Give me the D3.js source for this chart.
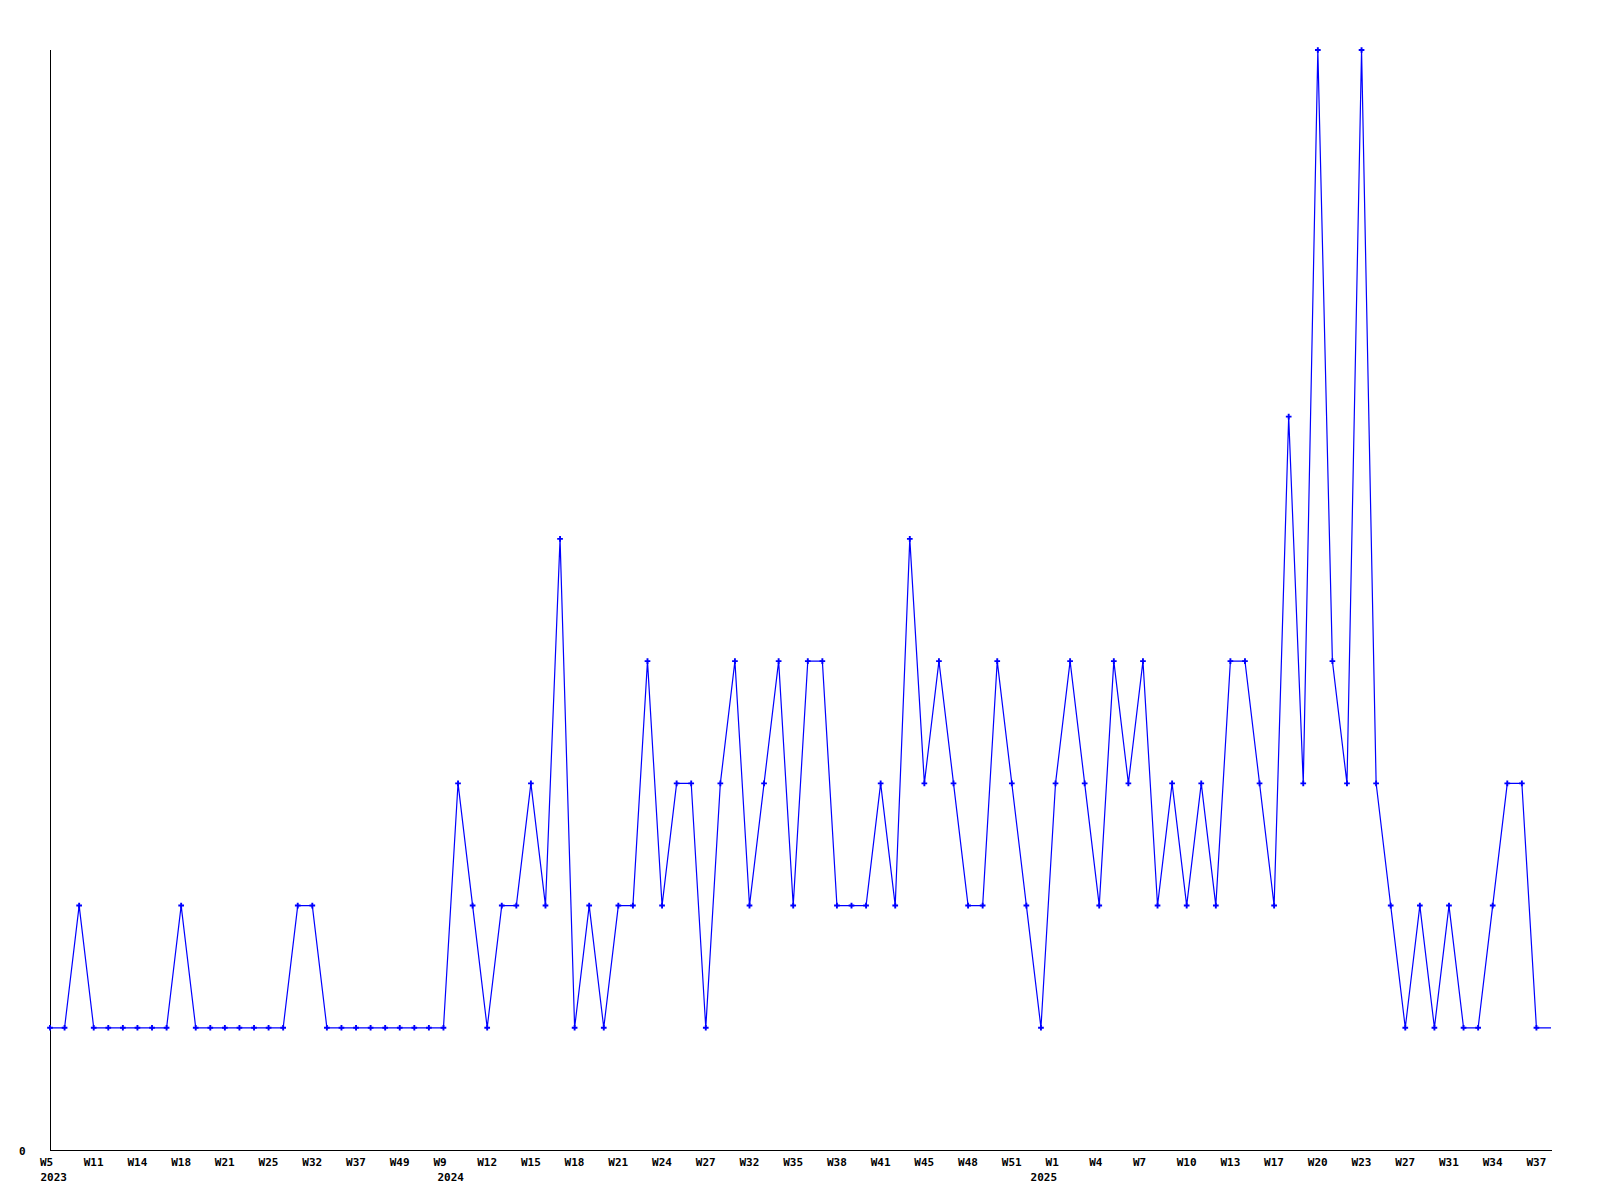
<!DOCTYPE html>
<html>
<head>
<meta charset="utf-8">
<script src="https://cdn.jsdelivr.net/npm/d3@7"></script>
<style>
  body { margin: 0; background: #fff; }
  .label { font-family: "DejaVu Sans Mono", monospace; font-size: 11px; font-weight: bold; fill: #000; }
</style>
</head>
<body>
<div class="chart"></div>
<script>
var w = 1600,
  h = 1200,
  margin = { left: 50, right: 49, top: 50, bottom: 50 },
  yMax = 9,
  tickEvery = 3;

// weekly counts, one per week that has data
var values = [
  1, 1, 2, 1, 1, 1, 1, 1, 1, 2, 1, 1, 1, 1, 1, 1, 1, 2, 2, 1, 1, 1, 1, 1, 1, 1, 1, 1,
  3, 2, 1, 2, 2, 3, 2, 5, 1, 2, 1, 2, 2, 4, 2, 3, 3, 1, 3, 4, 2, 3, 4, 2, 4, 4, 2,
  2, 2, 3, 2, 5, 3, 4, 3, 2, 2, 4, 3, 2, 1, 3, 4, 3, 2, 4, 3, 4, 2, 3, 2, 3, 2, 4,
  4, 3, 2, 6, 3, 9, 4, 3, 9, 3, 2, 1, 2, 1, 2, 1, 1, 2, 3, 3, 1,
  1
];

// x labels, shown on every 3rd week
var tickLabels = ['W5', 'W11', 'W14', 'W18', 'W21', 'W25', 'W32', 'W37', 'W49',
  'W9', 'W12', 'W15', 'W18', 'W21', 'W24', 'W27', 'W32', 'W35', 'W38', 'W41', 'W45', 'W48', 'W51',
  'W1', 'W4', 'W7', 'W10', 'W13', 'W17', 'W20', 'W23', 'W27', 'W31', 'W34', 'W37'];

// year labels sit near the week where the year starts
var yearLabels = ['2023', '2024', '2025'],
  yearTickIndex = [0.25, 27.5, 68.2];

var svg = d3.select('.chart')
  .append('svg')
  .attr('width', w)
  .attr('height', h);

var x = d3.scaleLinear()
  .domain([0, values.length - 1])
  .range([margin.left, w - margin.right]);

var y = d3.scaleLinear()
  .domain([0, yMax])
  .range([h - margin.bottom, margin.top]);

// axes lines
svg.append('line')
  .attr('x1', x(0) + 0.5).attr('x2', x(0) + 0.5)
  .attr('y1', y(yMax)).attr('y2', y(0) + 0.5)
  .attr('stroke', '#000')
  .attr('shape-rendering', 'crispEdges');

svg.append('line')
  .attr('x1', x(0)).attr('x2', x(values.length - 1) + 1)
  .attr('y1', y(0) + 0.5).attr('y2', y(0) + 0.5)
  .attr('stroke', '#000')
  .attr('shape-rendering', 'crispEdges');

// y label, only zero
svg.append('text')
  .attr('class', 'label')
  .attr('x', 19)
  .attr('y', y(0) + 5)
  .text('0');

// week labels
svg.selectAll('text.week')
  .data(tickLabels)
  .enter()
  .append('text')
  .attr('class', 'label week')
  .attr('x', function (d, i) { return x(i * tickEvery) - 10; })
  .attr('y', y(0) + 16)
  .text(function (d) { return d; });

svg.selectAll('text.year')
  .data(yearLabels)
  .enter()
  .append('text')
  .attr('class', 'label year')
  .attr('text-anchor', 'middle')
  .attr('x', function (d, i) { return x(yearTickIndex[i]); })
  .attr('y', y(0) + 31)
  .text(function (d) { return d; });

// the series line
var line = d3.line()
  .x(function (d, i) { return x(i); })
  .y(function (d) { return y(d); });

svg.append('path')
  .datum(values)
  .attr('d', line)
  .attr('fill', 'none')
  .attr('stroke', '#0000ff')
  .attr('stroke-width', 1.2);

// markers, last week has none
var marker = d3.symbol().type(d3.symbolCross).size(18);

svg.selectAll('path.marker')
  .data(values.slice(0, values.length - 1))
  .enter()
  .append('path')
  .attr('class', 'marker')
  .attr('d', marker)
  .attr('transform', function (d, i) { return 'translate(' + x(i) + ',' + y(d) + ')'; })
  .attr('fill', '#0000ff');
</script>
</body>
</html>
